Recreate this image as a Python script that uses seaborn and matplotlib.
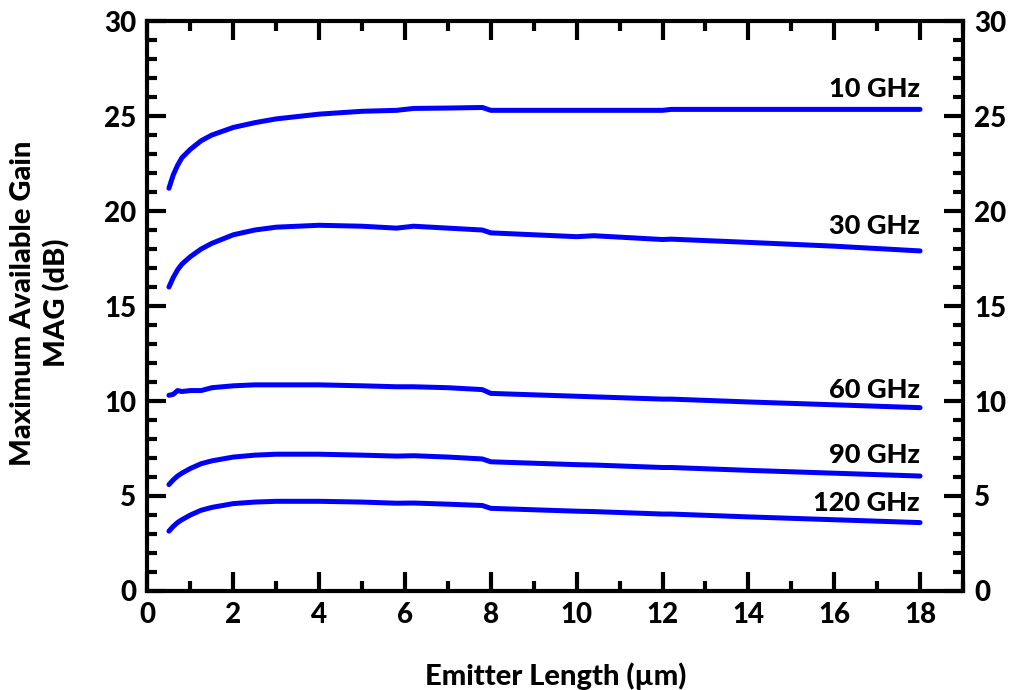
import numpy as np
import pandas as pd
import seaborn as sns
import matplotlib
matplotlib.use("Agg")
import matplotlib.pyplot as plt
from matplotlib.ticker import MultipleLocator

sns.set_theme(style="white")
plt.rcParams['font.family'] = ['Lato', 'DejaVu Sans']
plt.rcParams['font.weight'] = 'black'

emitter_length = [0.5, 0.6, 0.7, 0.8, 1.0, 1.25, 1.5, 2, 2.5, 3, 4, 5, 5.8, 6.2, 7, 7.8, 8, 10, 10.4, 12, 12.2, 14, 16, 18]
mag_10 = [21.2, 21.9, 22.4, 22.8, 23.25, 23.7, 24.0, 24.4, 24.65, 24.85, 25.1, 25.25, 25.3, 25.4, 25.42, 25.45, 25.3, 25.3, 25.3, 25.3, 25.35, 25.35, 25.35, 25.35]
mag_30 = [16.0, 16.5, 16.9, 17.2, 17.6, 18.0, 18.3, 18.75, 19.0, 19.15, 19.25, 19.2, 19.1, 19.2, 19.1, 19.0, 18.85, 18.65, 18.7, 18.5, 18.52, 18.35, 18.15, 17.9]
mag_60 = [10.3, 10.35, 10.55, 10.5, 10.55, 10.55, 10.7, 10.8, 10.85, 10.85, 10.85, 10.8, 10.75, 10.75, 10.7, 10.6, 10.4, 10.25, 10.22, 10.1, 10.1, 9.95, 9.8, 9.65]
mag_90 = [5.6, 5.85, 6.05, 6.2, 6.45, 6.7, 6.85, 7.05, 7.15, 7.2, 7.2, 7.15, 7.1, 7.12, 7.05, 6.95, 6.8, 6.65, 6.63, 6.5, 6.5, 6.35, 6.2, 6.05]
mag_120 = [3.15, 3.4, 3.6, 3.75, 4.0, 4.25, 4.4, 4.6, 4.68, 4.72, 4.72, 4.68, 4.62, 4.63, 4.57, 4.5, 4.35, 4.2, 4.18, 4.05, 4.05, 3.9, 3.75, 3.6]
series_labels = ["10 GHz", "30 GHz", "60 GHz", "90 GHz", "120 GHz"]
label_y = [26.4, 19.2, 10.6, 7.15, 4.65]

series = [mag_10, mag_30, mag_60, mag_90, mag_120]
df = pd.concat([pd.DataFrame({"x": emitter_length, "y": s, "f": lab})
                for s, lab in zip(series, series_labels)], ignore_index=True)

FS_TICK = 20
FS_ANN = 19.5
FS_LAB = 21
W = "black"

fig = plt.figure(figsize=(10.13, 6.90), dpi=100)
ax = fig.add_axes([0.1456, 0.1435, 0.805, 0.826])

sns.lineplot(data=df, x="x", y="y", hue="f", palette=["#0000FF"] * 5,
             linewidth=3.6, ax=ax, legend=False, sort=False, estimator=None)

for lab, yy in zip(series_labels, label_y):
    ax.text(18.0, yy, lab, ha="right", va="center", fontsize=FS_ANN, fontweight=W, color="black")

ax.set_xlim(0, 19)
ax.set_ylim(0, 30)
ax.xaxis.set_major_locator(MultipleLocator(2))
ax.xaxis.set_minor_locator(MultipleLocator(1))
ax.yaxis.set_major_locator(MultipleLocator(5))
ax.yaxis.set_minor_locator(MultipleLocator(1))
ax.set_xticks(np.arange(0, 19, 2))

for sp in ax.spines.values():
    sp.set_visible(True)
    sp.set_color("black")
    sp.set_linewidth(3)

ax.tick_params(which="both", direction="in", top=True, right=True, left=True, bottom=True,
               labelright=True, color="black", labelsize=FS_TICK, labelcolor="black")
ax.tick_params(which="major", length=14, width=3, pad=8)
ax.tick_params(which="minor", length=7, width=3)

ax.set_xlabel("Emitter Length (µm)", fontsize=FS_LAB, fontweight=W, color="black")
ax.set_ylabel("Maximum Available Gain\nMAG (dB)", fontsize=FS_LAB, fontweight=W,
              color="black", linespacing=1.3)
ax.xaxis.set_label_coords(0.501, -0.126)
ax.yaxis.set_label_coords(-0.095, 0.505)
ax.grid(False)

fig.savefig("out.png", dpi=100)
